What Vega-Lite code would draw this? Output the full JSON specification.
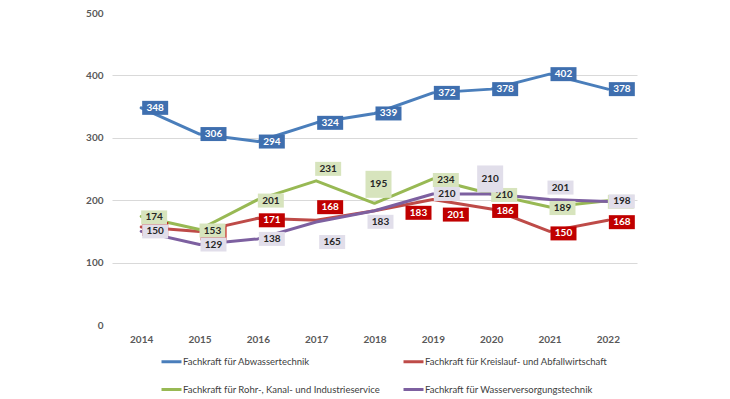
{
  "$schema": "https://vega.github.io/schema/vega-lite/v6.json",
  "width": 525,
  "height": 312,
  "autosize": "none",
  "padding": {"left": 112, "top": 13, "right": 93, "bottom": 74},
  "background": "white",
  "config": {
    "font": "Lato",
    "view": {"stroke": null},
    "axis": {"labelFont": "Lato", "labelColor": "#595959", "labelFontSize": 10, "labelFontWeight": "bold"},
    "point": {"filled": true, "opacity": 1, "size": 196, "strokeWidth": 0},
    "text": {"fontSize": 10, "fontWeight": "bold", "font": "Lato", "baseline": "middle", "align": "center"}
  },
  "data": {
    "values": [
      {"Jahr": "2014", "Beruf": "Fachkraft für Abwassertechnik", "Wert": 348},
      {"Jahr": "2015", "Beruf": "Fachkraft für Abwassertechnik", "Wert": 306},
      {"Jahr": "2016", "Beruf": "Fachkraft für Abwassertechnik", "Wert": 294},
      {"Jahr": "2017", "Beruf": "Fachkraft für Abwassertechnik", "Wert": 324},
      {"Jahr": "2018", "Beruf": "Fachkraft für Abwassertechnik", "Wert": 339},
      {"Jahr": "2019", "Beruf": "Fachkraft für Abwassertechnik", "Wert": 372},
      {"Jahr": "2020", "Beruf": "Fachkraft für Abwassertechnik", "Wert": 378},
      {"Jahr": "2021", "Beruf": "Fachkraft für Abwassertechnik", "Wert": 402},
      {"Jahr": "2022", "Beruf": "Fachkraft für Abwassertechnik", "Wert": 378},
      {"Jahr": "2014", "Beruf": "Fachkraft für Kreislauf- und Abfallwirtschaft", "Wert": 157},
      {"Jahr": "2015", "Beruf": "Fachkraft für Kreislauf- und Abfallwirtschaft", "Wert": 150},
      {"Jahr": "2016", "Beruf": "Fachkraft für Kreislauf- und Abfallwirtschaft", "Wert": 171},
      {"Jahr": "2017", "Beruf": "Fachkraft für Kreislauf- und Abfallwirtschaft", "Wert": 168},
      {"Jahr": "2018", "Beruf": "Fachkraft für Kreislauf- und Abfallwirtschaft", "Wert": 183},
      {"Jahr": "2019", "Beruf": "Fachkraft für Kreislauf- und Abfallwirtschaft", "Wert": 201},
      {"Jahr": "2020", "Beruf": "Fachkraft für Kreislauf- und Abfallwirtschaft", "Wert": 186},
      {"Jahr": "2021", "Beruf": "Fachkraft für Kreislauf- und Abfallwirtschaft", "Wert": 150},
      {"Jahr": "2022", "Beruf": "Fachkraft für Kreislauf- und Abfallwirtschaft", "Wert": 168},
      {"Jahr": "2014", "Beruf": "Fachkraft für Rohr-, Kanal- und Industrieservice", "Wert": 174},
      {"Jahr": "2015", "Beruf": "Fachkraft für Rohr-, Kanal- und Industrieservice", "Wert": 153},
      {"Jahr": "2016", "Beruf": "Fachkraft für Rohr-, Kanal- und Industrieservice", "Wert": 201},
      {"Jahr": "2017", "Beruf": "Fachkraft für Rohr-, Kanal- und Industrieservice", "Wert": 231},
      {"Jahr": "2018", "Beruf": "Fachkraft für Rohr-, Kanal- und Industrieservice", "Wert": 195},
      {"Jahr": "2019", "Beruf": "Fachkraft für Rohr-, Kanal- und Industrieservice", "Wert": 234},
      {"Jahr": "2020", "Beruf": "Fachkraft für Rohr-, Kanal- und Industrieservice", "Wert": 210},
      {"Jahr": "2021", "Beruf": "Fachkraft für Rohr-, Kanal- und Industrieservice", "Wert": 189},
      {"Jahr": "2022", "Beruf": "Fachkraft für Rohr-, Kanal- und Industrieservice", "Wert": 199},
      {"Jahr": "2014", "Beruf": "Fachkraft für Wasserversorgungstechnik", "Wert": 150},
      {"Jahr": "2015", "Beruf": "Fachkraft für Wasserversorgungstechnik", "Wert": 129},
      {"Jahr": "2016", "Beruf": "Fachkraft für Wasserversorgungstechnik", "Wert": 138},
      {"Jahr": "2017", "Beruf": "Fachkraft für Wasserversorgungstechnik", "Wert": 165},
      {"Jahr": "2018", "Beruf": "Fachkraft für Wasserversorgungstechnik", "Wert": 183},
      {"Jahr": "2019", "Beruf": "Fachkraft für Wasserversorgungstechnik", "Wert": 210},
      {"Jahr": "2020", "Beruf": "Fachkraft für Wasserversorgungstechnik", "Wert": 210},
      {"Jahr": "2021", "Beruf": "Fachkraft für Wasserversorgungstechnik", "Wert": 201},
      {"Jahr": "2022", "Beruf": "Fachkraft für Wasserversorgungstechnik", "Wert": 198}
    ]
  },
  "encoding": {
    "x": {
      "field": "Jahr", "type": "ordinal",
      "scale": {"type": "point", "padding": 0.5},
      "axis": {"title": null, "labelAngle": 0, "domain": false, "ticks": false, "labelPadding": 9}
    },
    "y": {
      "field": "Wert", "type": "quantitative",
      "scale": {"domain": [0, 500], "nice": false},
      "axis": {
        "title": null, "values": [0, 100, 200, 300, 400, 500], "domain": false, "ticks": false,
        "labelPadding": 9, "gridColor": "#D9D9D9", "gridWidth": 1,
        "gridOpacity": {"condition": {"test": "datum.value == 0 || datum.value == 500", "value": 0}, "value": 1}
      }
    }
  },
  "layer": [
    {
      "mark": {"type": "line", "strokeWidth": 3, "strokeCap": "round", "strokeJoin": "round"},
      "encoding": {
        "color": {
          "field": "Beruf", "type": "nominal",
          "scale": {
            "domain": ["Fachkraft für Abwassertechnik", "Fachkraft für Kreislauf- und Abfallwirtschaft", "Fachkraft für Rohr-, Kanal- und Industrieservice", "Fachkraft für Wasserversorgungstechnik"],
            "range": ["#4A7EBB", "#BE4B48", "#98B954", "#7D60A0"]
          },
          "legend": {
            "title": null, "orient": "none", "legendX": 48, "legendY": 337, "direction": "horizontal",
            "columns": 2, "columnPadding": 17, "rowPadding": 10,
            "symbolType": "stroke", "symbolSize": 400, "symbolStrokeWidth": 3,
            "labelFont": "Lato", "labelFontSize": 9.5, "labelColor": "#404040", "labelOffset": 0, "labelLimit": 300
          }
        }
      }
    },
    {
      "transform": [{"filter": "datum.Beruf == 'Fachkraft für Abwassertechnik'"}],
      "layer": [
        {"mark": {"type": "point", "fill": "#3F6FAF", "shape": "M0.143,-1 L3.857,-1 L3.857,1 L0.143,1 Z"}},
        {"mark": {"type": "text", "dx": 14, "dy": 0, "color": "white"}, "encoding": {"text": {"field": "Wert", "type": "quantitative"}}}
      ]
    },
    {
      "transform": [{"filter": "datum.Beruf == 'Fachkraft für Kreislauf- und Abfallwirtschaft' && indexof(['2014','2015','2016','2020','2021','2022'], datum.Jahr) >= 0"}],
      "layer": [
        {"mark": {"type": "point", "fill": "#C00000", "shape": "M0.143,-0.714 L3.857,-0.714 L3.857,1.286 L0.143,1.286 Z"}},
        {"mark": {"type": "text", "dx": 14, "dy": 2, "color": "white"}, "encoding": {"text": {"field": "Wert", "type": "quantitative"}}}
      ]
    },
    {
      "transform": [{"filter": "datum.Beruf == 'Fachkraft für Kreislauf- und Abfallwirtschaft' && datum.Jahr == '2017'"}],
      "layer": [
        {"mark": {"type": "point", "fill": "#C00000", "shape": "M0.143,-2.857 L3.857,-2.857 L3.857,-0.857 L0.143,-0.857 Z"}},
        {"mark": {"type": "text", "dx": 14, "dy": -13, "color": "white"}, "encoding": {"text": {"field": "Wert", "type": "quantitative"}}}
      ]
    },
    {
      "transform": [{"filter": "datum.Beruf == 'Fachkraft für Kreislauf- und Abfallwirtschaft' && datum.Jahr == '2018'"}],
      "layer": [
        {"mark": {"type": "point", "fill": "#C00000", "shape": "M4.429,-0.714 L8.143,-0.714 L8.143,1.286 L4.429,1.286 Z"}},
        {"mark": {"type": "text", "dx": 44, "dy": 2, "color": "white"}, "encoding": {"text": {"field": "Wert", "type": "quantitative"}}}
      ]
    },
    {
      "transform": [{"filter": "datum.Beruf == 'Fachkraft für Kreislauf- und Abfallwirtschaft' && datum.Jahr == '2019'"}],
      "layer": [
        {"mark": {"type": "point", "fill": "#C00000", "shape": "M1.429,1.143 L5.143,1.143 L5.143,3.143 L1.429,3.143 Z"}},
        {"mark": {"type": "text", "dx": 23, "dy": 15, "color": "white"}, "encoding": {"text": {"field": "Wert", "type": "quantitative"}}}
      ]
    },
    {
      "transform": [{"filter": "datum.Beruf == 'Fachkraft für Rohr-, Kanal- und Industrieservice' && indexof(['2014','2015','2016','2019','2020','2021','2022'], datum.Jahr) >= 0"}],
      "layer": [
        {"mark": {"type": "point", "fill": "#D7E4BD", "shape": "M0,-0.857 L3.714,-0.857 L3.714,1.143 L0,1.143 Z"}},
        {"mark": {"type": "text", "dx": 13, "dy": 1, "color": "#262626"}, "encoding": {"text": {"field": "Wert", "type": "quantitative"}}}
      ]
    },
    {
      "transform": [{"filter": "datum.Beruf == 'Fachkraft für Rohr-, Kanal- und Industrieservice' && datum.Jahr == '2017'"}],
      "layer": [
        {"mark": {"type": "point", "fill": "#D7E4BD", "shape": "M-0.143,-2.714 L3.571,-2.714 L3.571,-0.714 L-0.143,-0.714 Z"}},
        {"mark": {"type": "text", "dx": 12, "dy": -12, "color": "#262626"}, "encoding": {"text": {"field": "Wert", "type": "quantitative"}}}
      ]
    },
    {
      "transform": [{"filter": "datum.Beruf == 'Fachkraft für Rohr-, Kanal- und Industrieservice' && datum.Jahr == '2018'"}],
      "layer": [
        {"mark": {"type": "point", "fill": "#D7E4BD", "shape": "M-1.286,-4.643 L2.429,-4.643 L2.429,-0.786 L-1.286,-0.786 Z"}},
        {"mark": {"type": "text", "dx": 4, "dy": -19, "color": "#262626"}, "encoding": {"text": {"field": "Wert", "type": "quantitative"}}}
      ]
    },
    {
      "transform": [{"filter": "datum.Beruf == 'Fachkraft für Wasserversorgungstechnik' && indexof(['2014','2015','2016','2019','2022'], datum.Jahr) >= 0"}],
      "layer": [
        {"mark": {"type": "point", "fill": "#E1DEEA", "shape": "M0.143,-1 L3.857,-1 L3.857,1 L0.143,1 Z"}},
        {"mark": {"type": "text", "dx": 14, "dy": 0, "color": "#262626"}, "encoding": {"text": {"field": "Wert", "type": "quantitative"}}}
      ]
    },
    {
      "transform": [{"filter": "datum.Beruf == 'Fachkraft für Wasserversorgungstechnik' && datum.Jahr == '2017'"}],
      "layer": [
        {"mark": {"type": "point", "fill": "#E1DEEA", "shape": "M0.429,1.857 L4.143,1.857 L4.143,3.857 L0.429,3.857 Z"}},
        {"mark": {"type": "text", "dx": 16, "dy": 20, "color": "#262626"}, "encoding": {"text": {"field": "Wert", "type": "quantitative"}}}
      ]
    },
    {
      "transform": [{"filter": "datum.Beruf == 'Fachkraft für Wasserversorgungstechnik' && datum.Jahr == '2018'"}],
      "layer": [
        {"mark": {"type": "point", "fill": "#E1DEEA", "shape": "M-1,0.571 L2.714,0.571 L2.714,2.571 L-1,2.571 Z"}},
        {"mark": {"type": "text", "dx": 6, "dy": 11, "color": "#262626"}, "encoding": {"text": {"field": "Wert", "type": "quantitative"}}}
      ]
    },
    {
      "transform": [{"filter": "datum.Beruf == 'Fachkraft für Wasserversorgungstechnik' && datum.Jahr == '2020'"}],
      "layer": [
        {"mark": {"type": "point", "fill": "#E1DEEA", "shape": "M-2,-4.071 L1.714,-4.071 L1.714,-0.214 L-2,-0.214 Z"}},
        {"mark": {"type": "text", "dx": -1, "dy": -15, "color": "#262626"}, "encoding": {"text": {"field": "Wert", "type": "quantitative"}}}
      ]
    },
    {
      "transform": [{"filter": "datum.Beruf == 'Fachkraft für Wasserversorgungstechnik' && datum.Jahr == '2021'"}],
      "layer": [
        {"mark": {"type": "point", "fill": "#E1DEEA", "shape": "M-0.286,-2.714 L3.429,-2.714 L3.429,-0.714 L-0.286,-0.714 Z"}},
        {"mark": {"type": "text", "dx": 11, "dy": -12, "color": "#262626"}, "encoding": {"text": {"field": "Wert", "type": "quantitative"}}}
      ]
    }
  ]
}
